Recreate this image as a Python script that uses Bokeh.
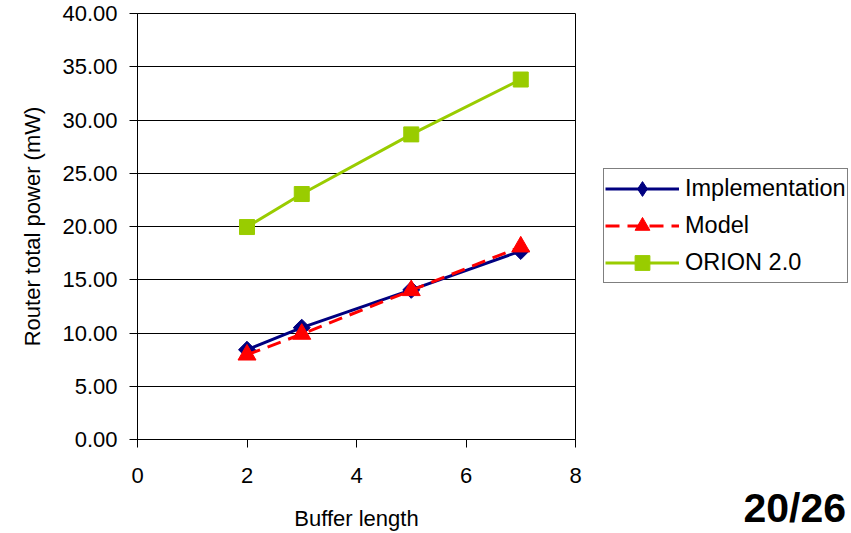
import numpy as np
from bokeh.plotting import figure
from bokeh.layouts import row, column
from bokeh.models import (FixedTicker, NumeralTickFormatter, Legend, LegendItem, Div,
                          Range1d)
from bokeh.embed import file_html
from bokeh.resources import INLINE

buffer_len = [2, 3, 5, 7]
implementation = [8.43, 10.5, 14.05, 17.7]
model = [7.95, 9.9, 14.0, 18.1]
orion = [19.95, 23.05, 28.65, 33.8]

series_names = ["Implementation", "Model", "ORION 2.0"]
x_ticks = [0, 2, 4, 6, 8]
y_ticks = [0, 5, 10, 15, 20, 25, 30, 35, 40]
page_text = "20/26"

FONT = "Liberation Sans"
FS = "22px"
navy = "#000080"
red = "#FF0000"
green = "#99CC00"

p = figure(width=600, height=533, output_backend="svg", toolbar_location=None,
           x_range=Range1d(0, 8), y_range=Range1d(0, 40),
           min_border_left=137, min_border_right=25, min_border_top=13, min_border_bottom=93)

p.outline_line_color = "black"
p.outline_line_width = 1
p.xgrid.grid_line_color = None
p.ygrid.grid_line_color = "black"
p.ygrid.grid_line_width = 1
p.ygrid.ticker = FixedTicker(ticks=y_ticks)

p.xaxis.ticker = FixedTicker(ticks=x_ticks)
p.yaxis.ticker = FixedTicker(ticks=y_ticks)
p.yaxis.formatter = NumeralTickFormatter(format="0.00")

for ax in (p.xaxis[0], p.yaxis[0]):
    ax.major_label_text_font = FONT
    ax.major_label_text_font_size = FS
    ax.major_label_text_color = "black"
    ax.axis_label_text_font = FONT
    ax.axis_label_text_font_size = FS
    ax.axis_label_text_font_style = "normal"
    ax.axis_label_text_color = "black"
    ax.axis_line_color = "black"
    ax.major_tick_line_color = "black"
    ax.minor_tick_line_color = None
    ax.major_tick_in = 0
    ax.major_tick_out = 8

p.xaxis.axis_label = "Buffer length"
p.yaxis.axis_label = "Router total power (mW)"
p.xaxis.major_label_standoff = 20
p.xaxis.axis_label_standoff = 20
p.yaxis.major_label_standoff = 12
p.yaxis.axis_label_standoff = 14

styles = [
    dict(line=dict(line_color=navy, line_width=3),
         mark=dict(marker="square", angle=np.pi / 4, size=12, fill_color=navy, line_color=navy)),
    dict(line=dict(line_color=red, line_width=3, line_dash="14 8"),
         mark=dict(marker="triangle", size=18, fill_color=red, line_color=red)),
    dict(line=dict(line_color=green, line_width=3),
         mark=dict(marker="square", size=15, fill_color=green, line_color=green)),
]
legend_marks = [
    dict(marker="diamond", fill_color=navy, line_color=navy),
    dict(marker="triangle", fill_color=red, line_color=red),
    dict(marker="square", fill_color=green, line_color=green),
]
series = [implementation, model, orion]

for ys, st in zip(series, styles):
    p.line(buffer_len, ys, **st["line"])
    p.scatter(buffer_len, ys, **st["mark"])

# side panel holding the legend (its ranges keep the data out of view)
q = figure(width=251, height=440, output_backend="svg", toolbar_location=None,
           x_range=Range1d(100, 101), y_range=Range1d(100, 101),
           x_axis_type=None, y_axis_type=None,
           min_border_left=0, min_border_right=0, min_border_top=13, min_border_bottom=0)
q.outline_line_color = None
q.xgrid.grid_line_color = None
q.ygrid.grid_line_color = None

items = []
for name, ys, st, lm in zip(series_names, series, styles, legend_marks):
    lr = q.line(buffer_len, ys, **st["line"])
    mr = q.scatter(buffer_len, ys, **lm)
    items.append(LegendItem(label=name, renderers=[lr, mr]))

legend = Legend(items=items, location=(3, 157))
legend.label_text_font = FONT
legend.label_text_font_size = "23.5px"
legend.label_text_color = "black"
legend.glyph_width = 74
legend.glyph_height = 37
legend.label_height = 30
legend.label_standoff = 6
legend.spacing = 0
legend.padding = 1
legend.margin = 0
legend.border_line_color = "black"
legend.border_line_width = 1
legend.background_fill_color = "white"
legend.background_fill_alpha = 1
q.add_layout(legend, "center")

page = Div(text=page_text, width=251, height=93,
           styles={"font-family": "Liberation Sans", "font-size": "41px",
                   "font-weight": "bold", "line-height": "41px", "color": "black",
                   "text-align": "right", "box-sizing": "border-box",
                   "padding-top": "43px", "padding-right": "10px"})

layout = row(p, column(q, page, spacing=0), spacing=0)
open("out.html", "w").write(file_html(layout, INLINE))
